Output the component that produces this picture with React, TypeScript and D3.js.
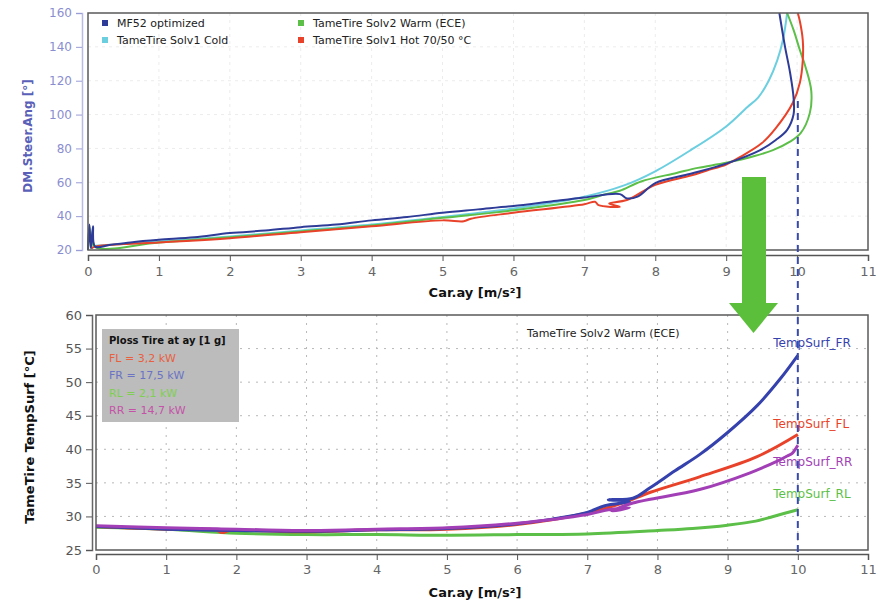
import React from 'react';
import * as d3 from 'd3';

// ---- top chart: steering angle vs lateral acceleration ----
const mf52: [number, number][] = [[0, 20], [0.02, 35], [0.04, 21], [0.07, 34], [0.1, 22], [0.3, 23], [0.6, 24.5], [1, 26], [1.5, 27.5], [2, 30], [2.5, 31.5], [3, 33.5], [3.5, 35], [4, 37.5], [4.5, 39.5], [5, 42], [5.5, 44], [6, 46], [6.5, 48.5], [7, 51], [7.5, 53], [7.6, 50.5], [7.75, 51.5], [8, 59.5], [8.5, 65], [9, 71], [9.48, 79], [9.7, 85], [9.86, 91], [9.95, 100], [9.95, 110], [9.9, 125], [9.83, 140], [9.75, 160]];
const solv1Cold: [number, number][] = [[0.1, 22.5], [1, 25], [2, 28], [3, 31.5], [4, 35], [5, 39.5], [6, 44.5], [7, 51.5], [7.55, 58], [8, 66.5], [8.5, 79], [9, 93], [9.3, 104.5], [9.45, 110], [9.6, 120], [9.72, 132], [9.8, 144], [9.86, 160]];
const solv2Warm: [number, number][] = [[0, 20], [0.02, 34], [0.05, 21], [0.07, 32], [0.1, 22], [1, 24.5], [2, 27.5], [3, 31], [4, 34.5], [5, 39], [6, 43.5], [7, 49.5], [7.3, 53], [7.5, 55], [7.8, 60.5], [8.3, 65.5], [8.6, 68.5], [9, 71.5], [9.4, 75.5], [9.66, 79], [9.9, 84], [10.05, 89], [10.18, 101], [10.2, 114], [10.12, 128], [10.04, 138], [9.95, 150], [9.86, 160]];
const solv1Hot: [number, number][] = [[0.05, 21], [0.1, 22], [0.5, 23.5], [1, 24.5], [2, 27], [3, 30.5], [4, 34], [5, 37.5], [5.3, 37], [5.4, 38.5], [6, 42], [7, 47], [7.15, 48.5], [7.2, 46.5], [7.5, 45.5], [7.35, 47.5], [7.6, 49.5], [8, 58.5], [8.5, 64], [8.73, 67], [9, 70.5], [9.2, 75], [9.5, 83], [9.7, 92], [9.94, 107], [10.04, 119], [10.08, 132], [10.08, 144], [10.04, 155], [10.01, 160]];

const topSeries = [
  { name: 'TameTire Solv1 Cold', color: '#6ccfe0', data: solv1Cold },
  { name: 'TameTire Solv2 Warm (ECE)', color: '#5cbf48', data: solv2Warm },
  { name: 'TameTire Solv1 Hot 70/50 °C', color: '#e8432a', data: solv1Hot },
  { name: 'MF52 optimized', color: '#2e3c98', data: mf52 },
];
const topTicksY = [20, 40, 60, 80, 100, 120, 140, 160];
const ticksX = [0, 1, 2, 3, 4, 5, 6, 7, 8, 9, 10, 11];

// ---- bottom chart: tire surface temperature ----
const tempFR: [number, number][] = [[0, 28.5], [0.5, 28.3], [1, 28.1], [2, 27.9], [3, 27.8], [4, 28], [5, 28.2], [6, 28.9], [6.5, 29.6], [7, 30.6], [7.25, 31.6], [7.6, 32.2], [7.3, 32.5], [7.65, 32.7], [7.9, 34.3], [8.25, 36.8], [8.6, 39.2], [9, 42.5], [9.42, 46.5], [9.75, 50.5], [10, 54]];
const tempFL: [number, number][] = [[0, 28.5], [1, 28.1], [1.7, 28], [1.8, 27.6], [1.9, 27.9], [3, 27.7], [4, 28], [5, 28.1], [6, 28.8], [7, 30.5], [7.5, 32], [7.9, 33.6], [8.6, 35.9], [9.42, 38.9], [10, 42.2]];
const tempRR: [number, number][] = [[0, 28.6], [1, 28.3], [2, 28.1], [3, 27.9], [4, 28.1], [5, 28.3], [6, 29], [7, 30.3], [7.3, 31], [7.6, 31.3], [7.35, 30.8], [7.65, 32], [8.6, 34], [9.32, 36.5], [9.7, 38.2], [9.85, 39], [9.92, 39.4], [10, 40.6]];
const tempRL: [number, number][] = [[0, 28.4], [1, 28.1], [2, 27.5], [3, 27.3], [4, 27.3], [5, 27.2], [6, 27.3], [7, 27.4], [8, 27.9], [8.5, 28.2], [9, 28.7], [9.4, 29.3], [9.65, 30], [10, 31]];

const bottomSeries = [
  { name: 'TempSurf_RL', color: '#5cbf48', data: tempRL, label: [9.65, 32.8] },
  { name: 'TempSurf_FL', color: '#e8432a', data: tempFL, label: [9.65, 43.2] },
  { name: 'TempSurf_FR', color: '#3542ad', data: tempFR, label: [9.65, 55.2] },
  { name: 'TempSurf_RR', color: '#a23fb6', data: tempRR, label: [9.65, 37.5] },
];
const bottomTicksY = [25, 30, 35, 40, 45, 50, 55, 60];

const plossLines = [
  { text: 'FL = 3,2 kW', color: '#e8603f' },
  { text: 'FR = 17,5 kW', color: '#6a73c4' },
  { text: 'RL = 2,1 kW', color: '#7fcf52' },
  { text: 'RR = 14,7 kW', color: '#c453a8' },
];

const FONT = 'DejaVu Sans, Verdana, sans-serif';

function App() {
  const svgRef = React.useRef<SVGSVGElement>(null);
  const width = 893;
  const height = 606;

  React.useEffect(() => {
    const svg = d3.select(svgRef.current);
    svg.selectAll('*').remove();
    svg.append('rect').attr('width', width).attr('height', height).attr('fill', '#fff');

    // ================= TOP CHART =================
    const xTop = d3.scaleLinear().domain([0, 11]).range([88, 868]);
    const yTop = d3.scaleLinear().domain([20, 160]).range([250, 13]);

    const topGrid = svg.append('g');
    ticksX.slice(1, -1).forEach((t) => {
      topGrid.append('line').attr('x1', xTop(t)).attr('x2', xTop(t)).attr('y1', 13).attr('y2', 250)
        .attr('stroke', '#ececec').attr('stroke-dasharray', '3,4');
    });
    topTicksY.slice(1, -1).forEach((t) => {
      topGrid.append('line').attr('x1', 88).attr('x2', 868).attr('y1', yTop(t)).attr('y2', yTop(t))
        .attr('stroke', '#ececec').attr('stroke-dasharray', '3,4');
    });

    const lineTop = d3.line<[number, number]>().x((d) => xTop(d[0])).y((d) => yTop(d[1]))
      .curve(d3.curveCatmullRom.alpha(0.5));
    topSeries.forEach((s) => {
      svg.append('path').attr('d', lineTop(s.data)).attr('fill', 'none')
        .attr('stroke', s.color).attr('stroke-width', 2).attr('stroke-linejoin', 'round');
    });

    svg.append('rect').attr('x', 88).attr('y', 13).attr('width', 780).attr('height', 237)
      .attr('fill', 'none').attr('stroke', '#5a5a5a').attr('stroke-width', 1.5);

    // y axis (lavender)
    const yAxisTop = svg.append('g').attr('transform', 'translate(82,0)')
      .call(d3.axisLeft(yTop).tickValues(topTicksY).tickSize(6).tickPadding(4));
    yAxisTop.select('.domain').attr('stroke', '#b9bce2').attr('stroke-width', 1.5);
    yAxisTop.selectAll('line').attr('stroke', '#9a9dd6');
    yAxisTop.selectAll('text').attr('fill', '#8a8ecf').attr('font-size', 12).attr('font-family', FONT);

    // x axis
    const xAxisTop = svg.append('g').attr('transform', 'translate(0,255)')
      .call(d3.axisBottom(xTop).tickValues(ticksX).tickSize(6).tickPadding(6));
    xAxisTop.select('.domain').attr('stroke', '#555').attr('stroke-width', 1.5);
    xAxisTop.selectAll('line').attr('stroke', '#555');
    xAxisTop.selectAll('text').attr('fill', '#666').attr('font-size', 13).attr('font-family', FONT);

    svg.append('text').attr('x', 475).attr('y', 297).attr('text-anchor', 'middle')
      .attr('font-family', FONT).attr('font-weight', 'bold').attr('font-size', 13).attr('fill', '#111')
      .text('Car.ay [m/s²]');
    svg.append('text').attr('transform', 'translate(32,136) rotate(-90)').attr('text-anchor', 'middle')
      .attr('font-family', FONT).attr('font-weight', 'bold').attr('font-size', 12).attr('fill', '#5a5fb8')
      .text('DM.Steer.Ang [°]');

    // legend
    const legendItems = [
      { s: topSeries[3], x: 102, y: 20 },
      { s: topSeries[0], x: 102, y: 37 },
      { s: topSeries[1], x: 298, y: 20 },
      { s: topSeries[2], x: 298, y: 37 },
    ];
    legendItems.forEach((it) => {
      svg.append('rect').attr('x', it.x).attr('y', it.y).attr('width', 6).attr('height', 6).attr('fill', it.s.color);
      svg.append('text').attr('x', it.x + 15).attr('y', it.y + 7).attr('font-family', FONT)
        .attr('font-size', 11).attr('fill', '#222').text(it.s.name);
    });

    // ================= BOTTOM CHART =================
    const xBot = d3.scaleLinear().domain([0, 11]).range([96, 868]);
    const yBot = d3.scaleLinear().domain([25, 60]).range([550, 315]);

    const botGrid = svg.append('g');
    ticksX.slice(1, -1).forEach((t) => {
      botGrid.append('line').attr('x1', xBot(t)).attr('x2', xBot(t)).attr('y1', 315).attr('y2', 550)
        .attr('stroke', '#b8b8b8').attr('stroke-dasharray', '2,6');
    });
    bottomTicksY.slice(1, -1).forEach((t) => {
      botGrid.append('line').attr('x1', 96).attr('x2', 868).attr('y1', yBot(t)).attr('y2', yBot(t))
        .attr('stroke', '#b8b8b8').attr('stroke-dasharray', '2,6');
    });

    const lineBot = d3.line<[number, number]>().x((d) => xBot(d[0])).y((d) => yBot(d[1]))
      .curve(d3.curveCatmullRom.alpha(0.5));
    bottomSeries.forEach((s) => {
      svg.append('path').attr('d', lineBot(s.data)).attr('fill', 'none')
        .attr('stroke', s.color).attr('stroke-width', 3).attr('stroke-linejoin', 'round');
    });

    svg.append('rect').attr('x', 96).attr('y', 315).attr('width', 772).attr('height', 235)
      .attr('fill', 'none').attr('stroke', '#5a5a5a').attr('stroke-width', 1.5);

    const yAxisBot = svg.append('g').attr('transform', 'translate(92,0)')
      .call(d3.axisLeft(yBot).tickValues(bottomTicksY).tickSize(6).tickPadding(4));
    yAxisBot.select('.domain').attr('stroke', '#666').attr('stroke-width', 1.5);
    yAxisBot.selectAll('line').attr('stroke', '#555');
    yAxisBot.selectAll('text').attr('fill', '#555').attr('font-size', 13).attr('font-family', FONT);

    const xAxisBot = svg.append('g').attr('transform', 'translate(0,554)')
      .call(d3.axisBottom(xBot).tickValues(ticksX).tickSize(6).tickPadding(5));
    xAxisBot.select('.domain').attr('stroke', '#555').attr('stroke-width', 1.5);
    xAxisBot.selectAll('line').attr('stroke', '#555');
    xAxisBot.selectAll('text').attr('fill', '#666').attr('font-size', 13).attr('font-family', FONT);

    svg.append('text').attr('x', 475).attr('y', 597).attr('text-anchor', 'middle')
      .attr('font-family', FONT).attr('font-weight', 'bold').attr('font-size', 13).attr('fill', '#111')
      .text('Car.ay [m/s²]');
    svg.append('text').attr('transform', 'translate(34,437) rotate(-90)').attr('text-anchor', 'middle')
      .attr('font-family', FONT).attr('font-weight', 'bold').attr('font-size', 13).attr('fill', '#111')
      .text('TameTire TempSurf [°C]');

    // series labels
    bottomSeries.forEach((s) => {
      svg.append('text').attr('x', xBot(s.label[0])).attr('y', yBot(s.label[1]))
        .attr('font-family', FONT).attr('font-size', 12).attr('fill', s.color).text(s.name);
    });

    svg.append('text').attr('x', 527).attr('y', 337).attr('font-family', FONT)
      .attr('font-size', 11).attr('fill', '#222').text('TameTire Solv2 Warm (ECE)');

    // Ploss box
    svg.append('rect').attr('x', 102).attr('y', 329).attr('width', 137).attr('height', 93).attr('fill', '#bcbcbc');
    svg.append('text').attr('x', 109).attr('y', 344).attr('font-family', FONT).attr('font-weight', 'bold')
      .attr('font-size', 10).attr('fill', '#111').text('Ploss Tire at ay [1 g]');
    plossLines.forEach((p, i) => {
      svg.append('text').attr('x', 109).attr('y', 362 + i * 17.3).attr('font-family', FONT)
        .attr('font-size', 11).attr('fill', p.color).text(p.text);
    });

    // dashed marker at ay = 10
    svg.append('line').attr('x1', xBot(10)).attr('x2', xBot(10)).attr('y1', yTop(108)).attr('y2', 552)
      .attr('stroke', '#3a4aa8').attr('stroke-width', 2).attr('stroke-dasharray', '7,5');

    // green arrow
    svg.append('rect').attr('x', 742).attr('y', 177).attr('width', 24).attr('height', 127).attr('fill', '#5cbf3c');
    svg.append('path').attr('d', 'M729,303 L778,303 L753.5,333 Z').attr('fill', '#5cbf3c');
  }, []);

  return (
    <svg ref={svgRef} width={width} height={height}
      style={{ position: 'absolute', left: 0, top: 0, display: 'block' }} />
  );
}

export default App;
